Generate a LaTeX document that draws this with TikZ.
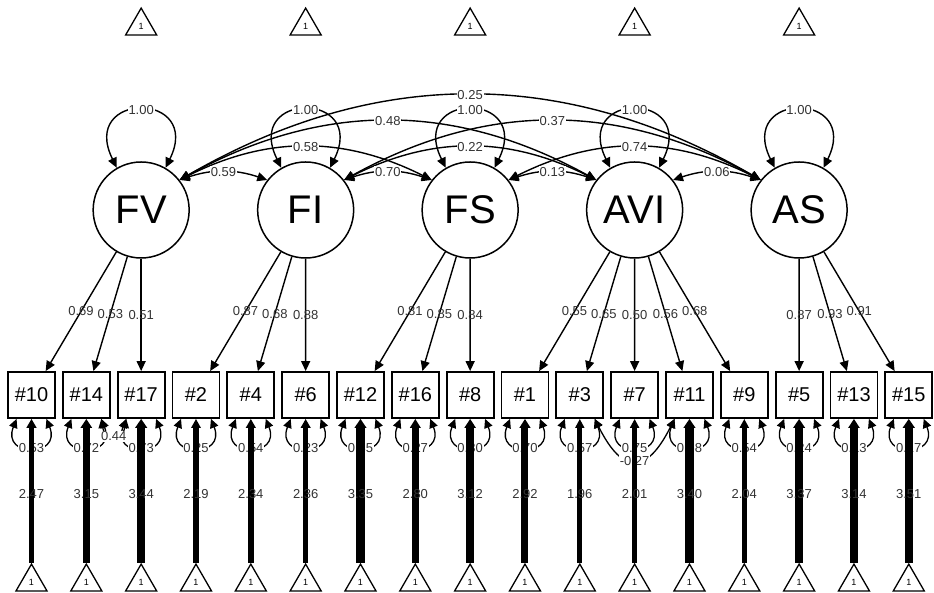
\documentclass[tikz,border=0pt]{standalone}
\usepackage{fontspec}
\setmainfont{Liberation Sans}
\usetikzlibrary{arrows.meta,shapes.geometric}

\begin{document}
\begin{tikzpicture}[x=1pt,y=1pt,
  latent/.style={circle,draw,line width=1.5pt,minimum size=96pt,inner sep=0pt,
    font=\fontsize{40}{40}\selectfont},
  manifest/.style={rectangle,draw,line width=1.8pt,minimum width=47pt,
    minimum height=46pt,inner sep=0pt,font=\fontsize{20}{20}\selectfont},
  const/.style={regular polygon,regular polygon sides=3,draw,line width=1.3pt,
    minimum size=35.8pt,inner sep=0pt,fill=white,font=\fontsize{9}{9}\selectfont},
  lab/.style={font=\fontsize{13}{13}\selectfont,text=black!80,inner sep=0.8pt},
  labbg/.style={lab,fill=white},
  oneway/.style={line width=1.4pt,-{Triangle[length=10pt,width=9pt]}},
  twoway/.style={line width=1.4pt,{Triangle[length=10pt,width=9pt]}-{Triangle[length=10pt,width=9pt]}},
  resid/.style={line width=1.3pt,{Triangle[length=9pt,width=8.5pt]}-{Triangle[length=9pt,width=8.5pt]}},
  meanbar/.style={-{Triangle[length=9pt,width=5pt 0.8]}}
]
\useasboundingbox[fill=white] (0,0) rectangle (934,593);

% latent factors
\node[latent] (FV)  at (141.16,383) {FV};
\node[latent] (FI)  at (305.65,383) {FI};
\node[latent] (FS)  at (470.14,383) {FS};
\node[latent] (AVI) at (634.63,383) {AVI};
\node[latent] (AS)  at (799.12,383) {AS};

% latent intercepts
\foreach \f in {FV,FI,FS,AVI,AS}
  \node[const] (c\f) at (\f |- 0,567) {1};

% observed items, their intercepts and residual variances
\foreach \n/\res/\mu [count=\i] in {10/0.53/2.47, 14/0.72/3.15, 17/0.73/3.44,
    2/0.25/2.19, 4/0.54/2.34, 6/0.23/2.36, 12/0.35/3.35, 16/0.27/2.80,
    8/0.30/3.12, 1/0.70/2.92, 3/0.57/1.96, 7/0.75/2.01, 11/0.68/3.40,
    9/0.54/2.04, 5/0.24/3.37, 13/0.13/3.14, 15/0.17/3.51} {
  \pgfmathsetmacro{\xx}{31.5+54.83*(\i-1)}
  \node[manifest] (m\i) at (\xx,198) {\#\n};
  \node[const] (b\i) at (\xx,11) {1};
  \draw[resid] (m\i.-122) .. controls +(-15.5,-39) and +(15.5,-39) ..
    node[labbg] {\res} (m\i.-58);
}
% residual covariances
\draw[resid] (m2.-58) .. controls +(4,-23) and +(-4,-23) .. node[labbg] {0.44} (m3.-122);
\draw[resid] (m11.-58) .. controls +(28,-56) and +(-28,-56) .. node[labbg] {-0.27} (m13.-122);

% intercept paths, width growing with the estimate
\foreach \mu [count=\i] in {2.47,3.15,3.44,2.19,2.34,2.36,3.35,2.80,3.12,
    2.92,1.96,2.01,3.40,2.04,3.37,3.14,3.51} {
  \pgfmathsetmacro{\w}{2.4*\mu}
  \draw[meanbar,line width=\w pt] (b\i.corner 1) -- node[lab,pos=0.48] {\mu} (m\i.south);
}

% factor loadings
\foreach \f/\i/\v in {FV/1/0.69, FV/2/0.53, FV/3/0.51,
    FI/4/0.87, FI/5/0.68, FI/6/0.88,
    FS/7/0.81, FS/8/0.85, FS/9/0.84,
    AVI/10/0.55, AVI/11/0.65, AVI/12/0.50, AVI/13/0.56, AVI/14/0.68,
    AS/15/0.87, AS/16/0.93, AS/17/0.91}
  \draw[oneway] (\f) -- node[lab] {\v} (m\i);

% factor variances
\foreach \f in {FV,FI,FS,AVI,AS}
  \draw[twoway] (\f.120) .. controls +(-38,77) and +(38,77) ..
    node[labbg] {1.00} (\f.60);

% factor covariances
\draw[twoway] (FV.38)  to[bend left=30]   node[labbg] {0.25} (AS.142);
\draw[twoway] (FV.38)  to[bend left=28.9] node[labbg] {0.48} (AVI.142);
\draw[twoway] (FI.38)  to[bend left=28.9] node[labbg] {0.37} (AS.142);
\draw[twoway] (FV.38)  to[bend left=26.7] node[labbg] {0.58} (FS.142);
\draw[twoway] (FI.38)  to[bend left=26.7] node[labbg] {0.22} (AVI.142);
\draw[twoway] (FS.38)  to[bend left=26.7] node[labbg] {0.74} (AS.142);
\draw[twoway] (FV.38)  to[bend left=18.7] node[labbg] {0.59} (FI.142);
\draw[twoway] (FI.38)  to[bend left=18.7] node[labbg] {0.70} (FS.142);
\draw[twoway] (FS.38)  to[bend left=18.7] node[labbg] {0.13} (AVI.142);
\draw[twoway] (AVI.38) to[bend left=18.7] node[labbg] {0.06} (AS.142);
\end{tikzpicture}
\end{document}
